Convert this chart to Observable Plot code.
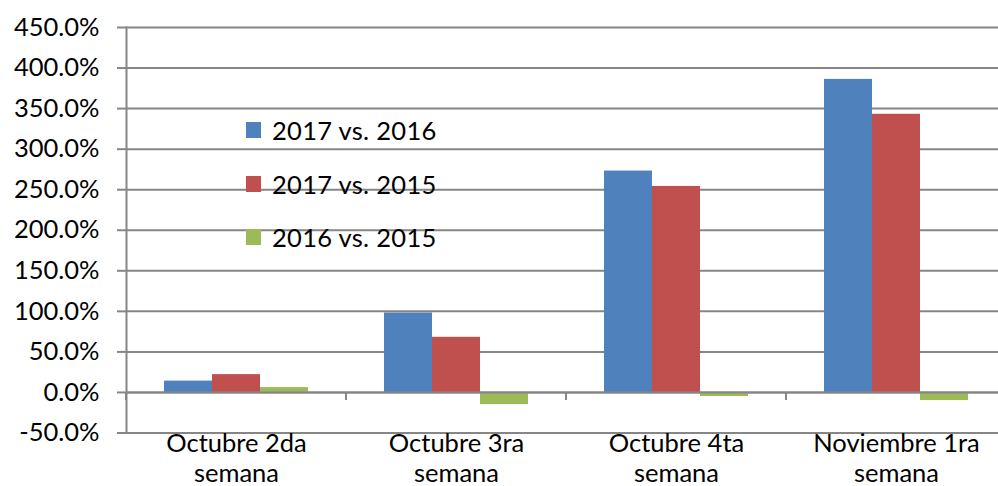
<!DOCTYPE html>
<html>
<head>
<meta charset="utf-8">
<script src="https://cdn.jsdelivr.net/npm/d3@7"></script>
<script src="https://cdn.jsdelivr.net/npm/@observablehq/plot@0.6"></script>
<style>
  html, body { margin: 0; padding: 0; background: #fff; overflow: hidden; }
  #wrap { position: relative; width: 998px; height: 486px; overflow: hidden; }
  #wrap svg { max-width: none !important; }
  #legend { position: absolute; left: 246px; top: 0; font-family: Lato, sans-serif; font-size: 25.5px; color: #000; }
  .row { position: absolute; left: 0; white-space: nowrap; height: 26px; line-height: 26px; }
  .sw { position: absolute; left: 0; top: 5px; width: 15px; height: 16px; }
  .lbl { position: absolute; left: 26px; top: 0; letter-spacing: 0.3px; }
</style>
</head>
<body>
<div id="wrap"><div id="legend"></div></div>
<script>
const categories = ["Octubre 2da\nsemana", "Octubre 3ra\nsemana", "Octubre 4ta\nsemana", "Noviembre 1ra\nsemana"];
const series = ["2017 vs. 2016", "2017 vs. 2015", "2016 vs. 2015"];
const v2017vs2016 = [14, 98, 273, 386];
const v2017vs2015 = [22, 68, 254, 343];
const v2016vs2015 = [6, -15, -5, -10];
const colors = ["#4F81BD", "#C0504D", "#9BBB59"];
const yTicks = [-50, 0, 50, 100, 150, 200, 250, 300, 350, 400, 450];

const values = [v2017vs2016, v2017vs2015, v2016vs2015];
const rows = [];
categories.forEach((c, i) => series.forEach((s, j) => rows.push({week: c, series: s, value: values[j][i]})));

const grid = "#868686";

const boundaryTicks = (index, scales) => {
  const x0 = scales.x.range()[0];
  const y0 = scales.y(0);
  return d3.create("svg:line")
    .attr("x1", x0).attr("x2", x0)
    .attr("y1", y0).attr("y2", y0 + 8)
    .attr("stroke", grid).attr("stroke-width", 2).node();
};

const chart = Plot.plot({
  width: 1006,
  height: 486,
  marginLeft: 126,
  marginRight: 0,
  marginTop: 27,
  marginBottom: 53.5,
  style: {fontFamily: "Lato, sans-serif", fontSize: "25.5px", color: "#000", background: "#fff", overflow: "visible", maxWidth: "none"},
  fx: {domain: categories, paddingInner: 0, paddingOuter: 0, label: null},
  x: {domain: series, paddingInner: 0, paddingOuter: 0.75, axis: null},
  y: {domain: [-50, 450], label: null},
  color: {domain: series, range: colors},
  marks: [
    Plot.ruleY(yTicks, {stroke: grid, strokeWidth: 2}),
    Plot.barY(rows, {fx: "week", x: "series", y: "value", fill: "series", inset: 0}),
    Plot.ruleY([0], {stroke: grid, strokeWidth: 2}),
    boundaryTicks,
    Plot.frame({anchor: "left", facetAnchor: "left", stroke: grid, strokeWidth: 2}),
    Plot.axisY({ticks: yTicks, tickFormat: d => d.toFixed(1) + "%", tickSize: 9, tickPadding: 18, stroke: grid, strokeWidth: 2, fill: "#000"}),
    Plot.axisFx({anchor: "bottom", tickSize: 0, tickPadding: -2.5, lineHeight: 1.18, fill: "#000"})
  ]
});
document.getElementById("wrap").prepend(chart);

const legend = d3.select("#legend");
const rowTops = [117, 170.5, 224];
series.forEach((s, i) => {
  const r = legend.append("div").attr("class", "row").style("top", rowTops[i] + "px");
  r.append("div").attr("class", "sw").style("background", colors[i]);
  r.append("div").attr("class", "lbl").text(s);
});
</script>
</body>
</html>
